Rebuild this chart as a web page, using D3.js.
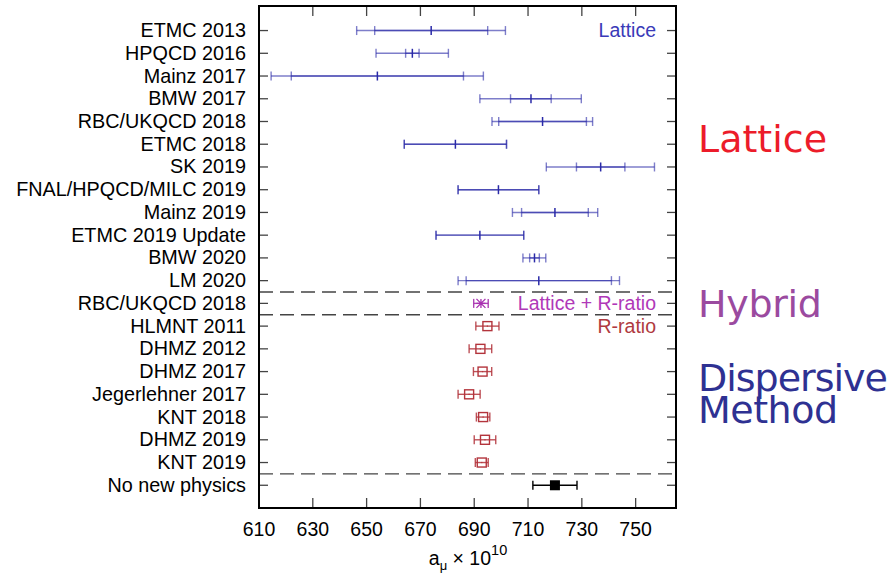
<!DOCTYPE html>
<html>
<head>
<meta charset="utf-8">
<script src="https://cdn.jsdelivr.net/npm/d3@7"></script>
<style>
  body { margin: 0; background: #fff; }
  svg text { font-family: "Liberation Sans", Arial, sans-serif; }
</style>
</head>
<body>
<div id="main"></div>
<script>
const w = 893;
const h = 574;

// one entry per row, top to bottom
const labels = ["ETMC 2013", "HPQCD 2016", "Mainz 2017", "BMW 2017", "RBC/UKQCD 2018", "ETMC 2018",
  "SK 2019", "FNAL/HPQCD/MILC 2019", "Mainz 2019", "ETMC 2019 Update", "BMW 2020", "LM 2020",
  "RBC/UKQCD 2018", "HLMNT 2011", "DHMZ 2012", "DHMZ 2017", "Jegerlehner 2017", "KNT 2018",
  "DHMZ 2019", "KNT 2019", "No new physics"];
const groups = ["lat", "lat", "lat", "lat", "lat", "lat", "lat", "lat", "lat", "lat", "lat", "lat",
  "hyb", "rr", "rr", "rr", "rr", "rr", "rr", "rr", "nnp"];
const centers = [674, 667, 654, 711.1, 715.4, 683, 737, 699, 720, 692.1, 712.4, 714,
  692.5, 694.9, 692.3, 693.1, 688.1, 693.3, 694.0, 692.8, 720.0];
// total error range
const totLo = [646.3, 653.5, 614.5, 692.1, 696.6, 664, 716.8, 684, 704.2, 675.8, 708.1, 684,
  689.8, 690.6, 688.1, 689.7, 684.0, 690.8, 690.0, 690.4, 711.8];
const totHi = [701.6, 680.4, 693.4, 729.8, 734.0, 702, 757.0, 714, 735.9, 708.4, 716.6, 744,
  695.2, 699.2, 696.5, 696.5, 692.2, 695.8, 698.0, 695.2, 728.2];
// statistical error range (lattice only)
const statLo = [653.0, 664.5, 622.0, 703.5, 699.1, 664, 728.0, 684, 707.6, 675.8, 710.6, 687];
const statHi = [695.0, 669.5, 686.0, 718.6, 731.7, 702, 746.0, 714, 732.4, 708.4, 714.2, 741];

const xTicks = [610, 630, 650, 670, 690, 710, 730, 750];
const separators = [11.5, 12.5, 19.5];

const colors = {lat: "#2a2aa8", hyb: "#a830b0", rr: "#b3343c", nnp: "#000"};

const x = d3.scaleLinear().domain([610, 765]).range([259, 676]);
const y = d3.scaleLinear().domain([-1.08, 21]).range([6, 508]);

const svg = d3.select("#main").append("svg")
  .attr("width", w)
  .attr("height", h);

const rows = labels.map((d, i) => ({
  i: i, name: d, g: groups[i], c: centers[i], lo: totLo[i], hi: totHi[i],
  slo: statLo[i], shi: statHi[i]
}));

// separators
svg.selectAll("line.sep")
  .data(separators)
  .enter()
  .append("line")
  .attr("class", "sep")
  .attr("x1", x(610)).attr("x2", x(765))
  .attr("y1", d => y(d)).attr("y2", d => y(d))
  .style("stroke", "#444")
  .style("stroke-width", 1.3)
  .style("stroke-dasharray", "14,7");

// row ticks left / right
svg.selectAll("line.ytl")
  .data(rows)
  .enter()
  .append("line")
  .attr("x1", x(610)).attr("x2", x(610) + 9)
  .attr("y1", d => y(d.i)).attr("y2", d => y(d.i))
  .style("stroke", "#444").style("stroke-width", 1.3);
svg.selectAll("line.ytr")
  .data(rows)
  .enter()
  .append("line")
  .attr("x1", x(765)).attr("x2", x(765) - 9)
  .attr("y1", d => y(d.i)).attr("y2", d => y(d.i))
  .style("stroke", "#444").style("stroke-width", 1.3);

// x ticks top / bottom
xTicks.forEach(function(t) {
  svg.append("line").attr("x1", x(t)).attr("x2", x(t)).attr("y1", y(21)).attr("y2", y(21) - 10)
    .style("stroke", "#444").style("stroke-width", 1.3);
  svg.append("line").attr("x1", x(t)).attr("x2", x(t)).attr("y1", y(-1.08)).attr("y2", y(-1.08) + 10)
    .style("stroke", "#444").style("stroke-width", 1.3);
});

svg.selectAll("text.xt")
  .data(xTicks)
  .enter()
  .append("text")
  .attr("x", d => x(d))
  .attr("y", 536)
  .attr("text-anchor", "middle")
  .style("font-size", "19.5px")
  .text(d => d);

// row labels
svg.selectAll("text.lab")
  .data(rows)
  .enter()
  .append("text")
  .attr("x", 246)
  .attr("y", d => y(d.i) + 6.5)
  .attr("text-anchor", "end")
  .style("font-size", "19.8px")
  .text(d => d.name);

function errBar(sel, lo, hi, col, op) {
  sel.append("line")
    .attr("x1", d => x(lo(d))).attr("x2", d => x(hi(d)))
    .attr("y1", d => y(d.i)).attr("y2", d => y(d.i))
    .style("stroke", col).style("stroke-width", 1.4).style("opacity", op);
  [lo, hi].forEach(function(f) {
    sel.append("line")
      .attr("x1", d => x(f(d))).attr("x2", d => x(f(d)))
      .attr("y1", d => y(d.i) - 4.5).attr("y2", d => y(d.i) + 4.5)
      .style("stroke", col).style("stroke-width", 1.4).style("opacity", op);
  });
}

// lattice: total + stat bars overlaid
const lat = svg.selectAll("g.lat")
  .data(rows.filter(d => d.g == "lat"))
  .enter()
  .append("g");
errBar(lat, d => d.lo, d => d.hi, colors.lat, 0.6);
errBar(lat, d => d.slo, d => d.shi, colors.lat, 0.6);
lat.append("line")
  .attr("x1", d => x(d.c)).attr("x2", d => x(d.c))
  .attr("y1", d => y(d.i) - 4.5).attr("y2", d => y(d.i) + 4.5)
  .style("stroke", colors.lat).style("stroke-width", 1.5);

// hybrid: asterisk
const hyb = svg.selectAll("g.hyb")
  .data(rows.filter(d => d.g == "hyb"))
  .enter()
  .append("g");
errBar(hyb, d => d.lo, d => d.hi, colors.hyb, 0.9);
hyb.append("path")
  .attr("d", d => {
    const cx = x(d.c), cy = y(d.i), r = 4.5;
    return "M" + (cx - r) + "," + cy + "H" + (cx + r) +
      "M" + cx + "," + (cy - r) + "V" + (cy + r) +
      "M" + (cx - r) + "," + (cy - r) + "L" + (cx + r) + "," + (cy + r) +
      "M" + (cx - r) + "," + (cy + r) + "L" + (cx + r) + "," + (cy - r);
  })
  .style("stroke", colors.hyb).style("stroke-width", 1.3).style("fill", "none");

// R-ratio: open squares
const rr = svg.selectAll("g.rr")
  .data(rows.filter(d => d.g == "rr"))
  .enter()
  .append("g");
errBar(rr, d => d.lo, d => d.hi, colors.rr, 0.85);
rr.append("rect")
  .attr("x", d => x(d.c) - 4.5).attr("y", d => y(d.i) - 4.5)
  .attr("width", 9).attr("height", 9)
  .style("fill", "none").style("stroke", colors.rr).style("stroke-width", 1.4);
rr.append("rect")
  .attr("x", d => x(d.c) - 0.6).attr("y", d => y(d.i) - 0.6)
  .attr("width", 1.2).attr("height", 1.2)
  .style("fill", colors.rr);

// no new physics: filled square
const nnp = svg.selectAll("g.nnp")
  .data(rows.filter(d => d.g == "nnp"))
  .enter()
  .append("g");
errBar(nnp, d => d.lo, d => d.hi, colors.nnp, 1);
nnp.append("rect")
  .attr("x", d => x(d.c) - 5).attr("y", d => y(d.i) - 5)
  .attr("width", 10).attr("height", 10)
  .style("fill", "#000");

// frame
svg.append("rect")
  .attr("x", x(610)).attr("y", y(-1.08))
  .attr("width", x(765) - x(610)).attr("height", y(21) - y(-1.08))
  .style("fill", "none").style("stroke", "#000").style("stroke-width", 2);

// inside labels
const inLabels = [
  {t: "Lattice", row: 0, col: "#3a3ab8"},
  {t: "Lattice + R-ratio", row: 12, col: "#b038b8"},
  {t: "R-ratio", row: 13, col: "#b03a40"}
];
svg.selectAll("text.inl")
  .data(inLabels)
  .enter()
  .append("text")
  .attr("x", 656)
  .attr("y", d => y(d.row) + 6.5)
  .attr("text-anchor", "end")
  .style("font-size", "19.5px")
  .style("fill", d => d.col)
  .text(d => d.t);

// axis label
const xl = svg.append("text")
  .attr("x", 468).attr("y", 565)
  .attr("text-anchor", "middle")
  .style("font-size", "19.5px");
xl.append("tspan").text("a");
xl.append("tspan").attr("dy", 5).style("font-size", "13px").text("\u03bc");
xl.append("tspan").attr("dy", -5).text(" \u00d7 10");
xl.append("tspan").attr("dy", -10).style("font-size", "14.5px").text("10");

// big side labels
const sideLabels = [
  {t: "Lattice", y: 152, col: "#ec1c2a", ls: 0},
  {t: "Hybrid", y: 317, col: "#9b4a9f", ls: -0.3},
  {t: "Dispersive", y: 391, col: "#2e3192", ls: -1},
  {t: "Method", y: 422.5, col: "#2e3192", ls: -0.5}
];
svg.selectAll("text.side")
  .data(sideLabels)
  .enter()
  .append("text")
  .attr("x", 698)
  .attr("y", d => d.y)
  .style("font-family", "'DejaVu Sans', sans-serif")
  .style("font-size", "38px")
  .style("letter-spacing", d => d.ls + "px")
  .style("fill", d => d.col)
  .text(d => d.t);
</script>
</body>
</html>
